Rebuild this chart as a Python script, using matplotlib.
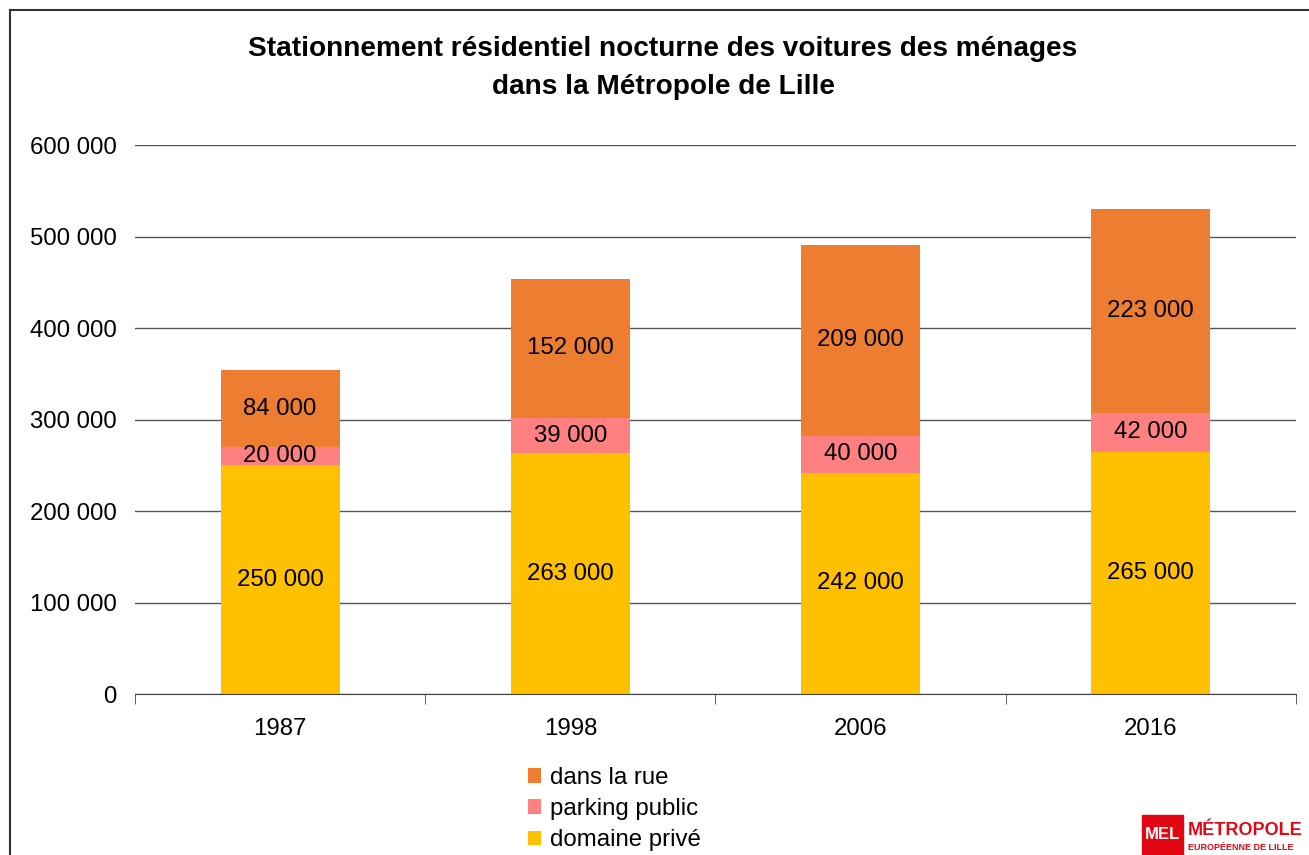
import matplotlib.pyplot as plt
from matplotlib.patches import Rectangle
from matplotlib.lines import Line2D

plt.rcParams['font.family'] = ['Liberation Sans', 'DejaVu Sans']

annees = ['1987', '1998', '2006', '2016']
domaine_prive = [250000, 263000, 242000, 265000]
parking_public = [20000, 39000, 40000, 42000]
dans_la_rue = [84000, 152000, 209000, 223000]
noms = ['domaine privé', 'parking public', 'dans la rue']
couleurs = ['#FFC000', '#FF8080', '#ED7D31']

fs = 17.3

fig = plt.figure(figsize=(13.09, 8.55), dpi=100)
ax = fig.add_axes([0.1031, 0.1883, 0.8869, 0.6421])

x = list(range(len(annees)))
bas = [0] * len(annees)
for serie, nom, c in zip([domaine_prive, parking_public, dans_la_rue], noms, couleurs):
    ax.bar(x, serie, 0.41, bottom=bas, color=c, label=nom, zorder=3)
    for xi, b, v in zip(x, bas, serie):
        ax.text(xi, b + v / 2, f'{v:,}'.replace(',', ' '), ha='center', va='center',
                fontsize=fs, zorder=4)
    bas = [b + v for b, v in zip(bas, serie)]

ax.set_xlim(-0.5, 3.5)
ax.set_ylim(0, 600000)
ax.set_yticks(range(0, 600001, 100000))
ax.set_yticklabels([f'{v:,}'.replace(',', ' ') for v in range(0, 600001, 100000)])
ax.grid(axis='y', color='#555555', linewidth=1, zorder=0)
ax.tick_params(axis='y', length=0, pad=13, labelsize=fs)
ax.set_xticks(x)
ax.set_xticklabels(annees)
ax.set_xticks([-0.5, 0.5, 1.5, 2.5, 3.5], minor=True)
ax.tick_params(axis='x', which='major', length=0, pad=17, labelsize=fs)
ax.tick_params(axis='x', which='minor', length=7, color='#444444')
for s in ['top', 'right', 'left']:
    ax.spines[s].set_visible(False)
ax.spines['bottom'].set_color('#444444')
ax.spines['bottom'].set_zorder(5)

fig.text(0.5065, 1 - 68.5 / 855, 'Stationnement résidentiel nocturne des voitures des ménages\ndans la Métropole de Lille',
         ha='center', va='center', fontsize=20.2, fontweight='bold', linespacing=1.6)

h, l = ax.get_legend_handles_labels()
fig.legend(h[::-1], l[::-1], loc='upper left', bbox_to_anchor=(528 / 1309, 1 - 767 / 855),
           frameon=False, fontsize=fs, handlelength=0.55, handleheight=0.55,
           handletextpad=0.35, labelspacing=0.38, borderpad=0, borderaxespad=0)

# cadre du graphique
fig.add_artist(Line2D([10 / 1309, 10 / 1309], [0, 1 - 10 / 855], color='#333333', lw=1.5))
fig.add_artist(Line2D([10 / 1309, 1], [1 - 10 / 855, 1 - 10 / 855], color='#333333', lw=1.5))

# logo MEL
fig.add_artist(Rectangle((1142 / 1309, 0), 41 / 1309, 40 / 855, color='#E30613', transform=fig.transFigure))
fig.text(1162.5 / 1309, 21 / 855, 'MEL', color='white', fontsize=12, fontweight='bold', ha='center', va='center')
fig.text(1188 / 1309, 25 / 855, 'MÉTROPOLE', color='#E30613', fontsize=13, fontweight='bold', ha='left', va='center')
fig.text(1188 / 1309, 8 / 855, 'EUROPÉENNE DE LILLE', color='#E30613', fontsize=6.5, fontweight='bold', ha='left', va='center')

fig.savefig('out.png', dpi=100)
